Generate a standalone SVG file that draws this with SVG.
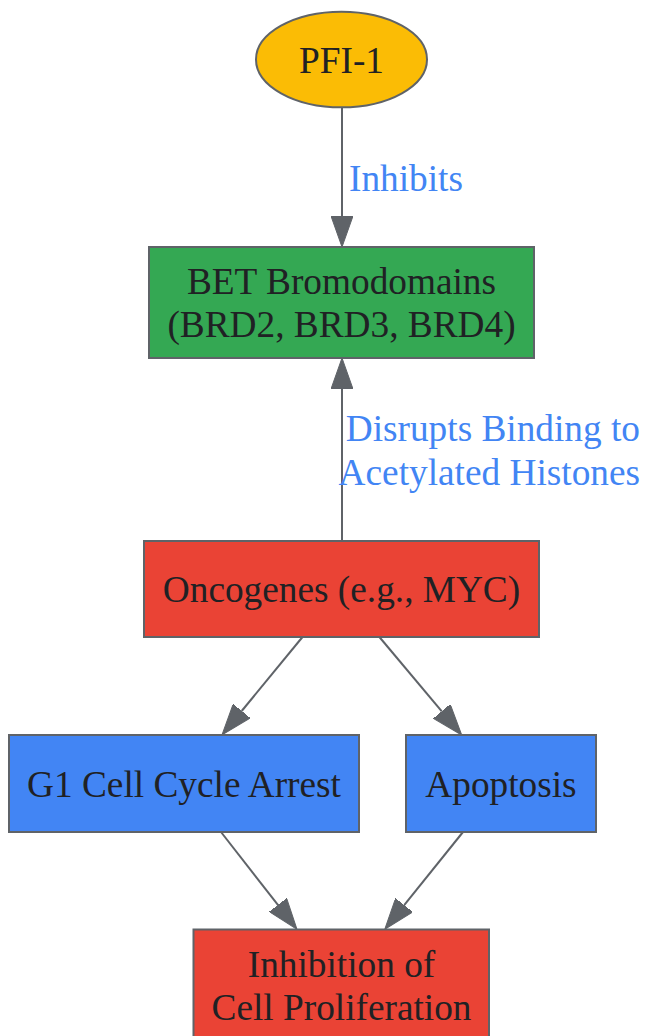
<svg xmlns="http://www.w3.org/2000/svg" width="646" height="1036" viewBox="0 0 646 1036">
<defs>
<style>
.node{stroke:#5f6368;stroke-width:2}
.t{font-family:"Liberation Serif","Times New Roman",serif;font-size:37.3px;fill:#202124;text-anchor:middle}
.el{font-family:"Liberation Serif","Times New Roman",serif;font-size:37.3px;fill:#4285F4}
.edge{stroke:#5f6368;stroke-width:2;fill:none}
</style>
<marker id="arr" viewBox="0 -11 31 22" markerUnits="userSpaceOnUse" markerWidth="31" markerHeight="22" refX="0" refY="0" orient="auto">
<path d="M0,-11 L31,0 L0,11 z" fill="#5f6368" stroke="#5f6368" stroke-width="1"/>
</marker>
</defs>
<rect width="646" height="1036" fill="#ffffff"/>
<g id="connectors">
<line class="edge" x1="342" y1="108" x2="342" y2="216" marker-end="url(#arr)"/>
<text class="el" x="349" y="191">Inhibits</text>
<line class="edge" x1="342" y1="541" x2="342" y2="389" marker-end="url(#arr)"/>
<text class="el" x="640" y="441" text-anchor="end">Disrupts Binding to</text>
<text class="el" x="640" y="485" text-anchor="end">Acetylated Histones</text>
<line class="edge" x1="302.5" y1="637" x2="241.7" y2="711" marker-end="url(#arr)"/>
<line class="edge" x1="379.4" y1="637" x2="441.8" y2="711.3" marker-end="url(#arr)"/>
<line class="edge" x1="221" y1="832" x2="277.9" y2="904.9" marker-end="url(#arr)"/>
<line class="edge" x1="463" y1="832" x2="404.2" y2="905.1" marker-end="url(#arr)"/>
</g>
<g id="pfi1">
<ellipse class="node" cx="341.5" cy="59.5" rx="85.5" ry="47.8" fill="#FBBC05"/>
<text class="t" x="341.5" y="73">PFI-1</text>
</g>
<g id="bet">
<rect class="node" x="149" y="247" width="385" height="111" fill="#34A853"/>
<text class="t" x="341.5" y="294">BET Bromodomains</text>
<text class="t" x="341.5" y="337">(BRD2, BRD3, BRD4)</text>
</g>
<g id="oncogenes">
<rect class="node" x="144" y="541" width="395" height="96" fill="#EA4335"/>
<text class="t" x="341.5" y="602">Oncogenes (e.g., MYC)</text>
</g>
<g id="g1arrest">
<rect class="node" x="9" y="735" width="350" height="97" fill="#4285F4"/>
<text class="t" x="184" y="797">G1 Cell Cycle Arrest</text>
</g>
<g id="apoptosis">
<rect class="node" x="406" y="735" width="190" height="97" fill="#4285F4"/>
<text class="t" x="501" y="797">Apoptosis</text>
</g>
<g id="inhibition">
<rect class="node" x="193.5" y="929.5" width="295.5" height="112" fill="#EA4335"/>
<text class="t" x="341.5" y="977">Inhibition of</text>
<text class="t" x="341.5" y="1020">Cell Proliferation</text>
</g>
</svg>
